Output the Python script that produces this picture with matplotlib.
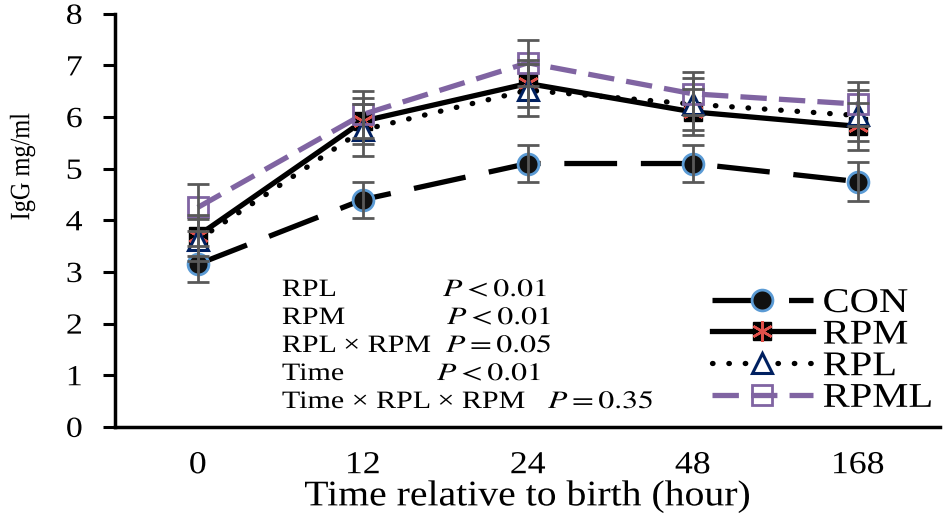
import matplotlib
matplotlib.use('Agg')
import matplotlib.pyplot as plt
from matplotlib.legend_handler import HandlerTuple
from matplotlib.patheffects import AbstractPathEffect
from matplotlib.transforms import Affine2D
import numpy as np

plt.rcParams['font.family'] = ['Liberation Serif', 'DejaVu Serif']
plt.rcParams['mathtext.fontset'] = 'stix'

times = ['0', '12', '24', '48', '168']
con = [3.15, 4.40, 5.10, 5.10, 4.75]
con_err = [0.35, 0.35, 0.35, 0.35, 0.37]
rpm = [3.70, 5.92, 6.65, 6.10, 5.82]
rpm_err = [0.40, 0.45, 0.45, 0.45, 0.45]
rpl = [3.62, 5.75, 6.52, 6.25, 6.03]
rpl_err = [0.40, 0.50, 0.50, 0.50, 0.50]
rpml = [4.25, 6.05, 7.05, 6.45, 6.25]
rpml_err = [0.45, 0.45, 0.45, 0.42, 0.43]

stats_labels = ['RPL', 'RPM', 'RPL \u00d7 RPM', 'Time', 'Time \u00d7 RPL \u00d7 RPM']
stats_p = [r'$P < 0.01$', r'$P < 0.01$', r'$P = 0.05$', r'$P < 0.01$', r'$P = 0.35$']


class Stretch(AbstractPathEffect):
    # the reference text looks wider than normal Times, so stretch glyphs
    def __init__(self, sx=1.0, sy=1.0, anchor='left'):
        super().__init__()
        self.sx, self.sy, self.anchor = sx, sy, anchor

    def draw_path(self, renderer, gc, tpath, affine, rgbFace=None):
        ext = tpath.get_extents()
        if self.anchor == 'center':
            cx = (ext.x0 + ext.x1) / 2
        elif self.anchor == 'right':
            cx = ext.x1
        else:
            cx = ext.x0
        cy = (ext.y0 + ext.y1) / 2
        t = Affine2D().translate(-cx, -cy).scale(self.sx, self.sy).translate(cx, cy) + affine
        renderer.draw_path(gc, tpath, t, rgbFace)


x = np.arange(len(times)) + 0.5

fig = plt.figure(figsize=(9.45, 5.29), dpi=100)
ax = fig.add_axes([0.122, 0.193, 0.873, 0.781])

err_kw = dict(fmt='none', ecolor='#595959', elinewidth=2, capsize=8, capthick=2, zorder=6)
for vals, errs in [(con, con_err), (rpm, rpm_err), (rpl, rpl_err), (rpml, rpml_err)]:
    ax.errorbar(x, vals, yerr=errs, **err_kw)

h_con, = ax.plot(x, con, color='black', lw=3.8, dashes=(10, 4.5), marker='o', ms=15,
                 mfc='#111111', mec='#5B9BD5', mew=2, zorder=3)
h_rpm, = ax.plot(x, rpm, color='black', lw=3.8, marker='s', ms=13,
                 mfc='black', mec='black', zorder=4)
h_rpm_star, = ax.plot(x, rpm, ls='none', marker=(6, 2, 0), ms=15, mec='#E0504A', mew=1.8, zorder=4)
h_rpl, = ax.plot(x, rpl, color='black', lw=3.8, ls=(0, (0.1, 3.0)), dash_capstyle='round',
                 marker='^', ms=15, mfc='white', mec='#002060', mew=2.2, zorder=5)
h_rpml, = ax.plot(x, rpml, color='#8064A2', lw=3.8, dashes=(5, 2.3), marker='s', ms=15,
                  mfc='none', mec='#8064A2', mew=2, zorder=5)

ax.set_xlim(0, 5)
ax.set_ylim(0, 8)
ax.set_xticks(x)
ax.set_xticklabels(times)
ax.set_yticks(range(0, 9))
ax.tick_params(axis='x', length=0, labelsize=23, pad=17.5)
ax.tick_params(axis='y', length=8.6, width=2.2, direction='out', labelsize=21, pad=15)
for s in ['top', 'right']:
    ax.spines[s].set_visible(False)
for s in ['left', 'bottom']:
    ax.spines[s].set_linewidth(2.5)
ax.set_xlabel('Time relative to birth (hour)', fontsize=26, labelpad=0,
              path_effects=[Stretch(1.1, 1, 'center')])
ax.set_ylabel('IgG mg/ml', fontsize=17.5,
              path_effects=[Stretch(1, 1.15, 'center')])
ax.yaxis.set_label_coords((33 - 115) / 825, (427 - 167) / 413)
for lab in ax.get_xticklabels():
    lab.set_path_effects([Stretch(1.12, 1, 'center')])
for lab in ax.get_yticklabels():
    lab.set_path_effects([Stretch(1.16, 1, 'right')])

leg = ax.legend([h_con, (h_rpm, h_rpm_star), h_rpl, h_rpml], ['CON', 'RPM', 'RPL', 'RPML'],
                handler_map={tuple: HandlerTuple(ndivide=1)},
                loc='upper left', bbox_to_anchor=(712 / 945, 1 - 287 / 529),
                bbox_transform=fig.transFigure, frameon=False, borderpad=0, borderaxespad=0,
                fontsize=25, handlelength=2.9, handletextpad=0.29, labelspacing=-0.04)
for t in leg.get_texts():
    t.set_path_effects([Stretch(1.17, 1, 'left')])

p_x = [443, 447, 446, 437, 548]
for i, (lab, p) in enumerate(zip(stats_labels, stats_p)):
    ypix = 290 + i * 28
    fig.text(282 / 945, 1 - ypix / 529, lab, fontsize=18, va='center', ha='left',
             path_effects=[Stretch(1.2, 1, 'left')])
    fig.text(p_x[i] / 945, 1 - ypix / 529, p, fontsize=18, va='center', ha='left',
             path_effects=[Stretch(1.27, 1, 'left')])

fig.savefig('out.png', dpi=100)
